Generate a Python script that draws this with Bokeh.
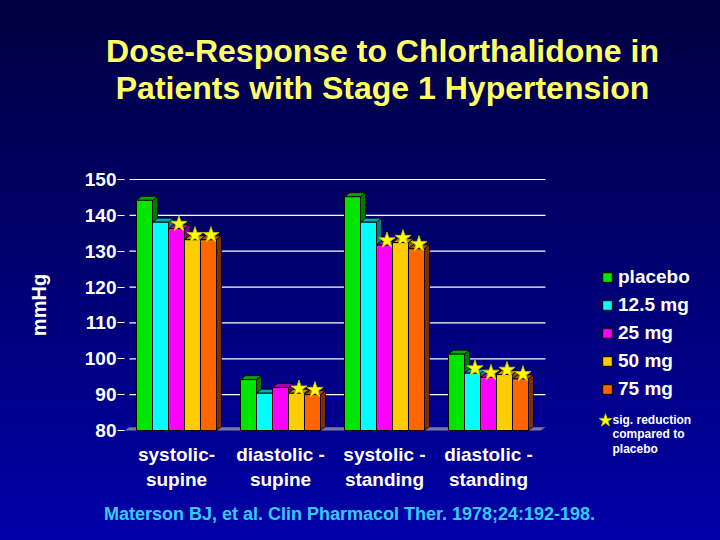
from bokeh.plotting import figure
from bokeh.models import (Label, Legend, LegendItem, FixedTicker, Range1d)
from bokeh.embed import file_html
from bokeh.resources import INLINE

# ---- data ----
categories = ["systolic-\nsupine", "diastolic -\nsupine", "systolic -\nstanding", "diastolic -\nstanding"]
series_names = ["placebo", "12.5 mg", "25 mg", "50 mg", "75 mg"]
placebo = [144.2, 94.2, 145.2, 101.3]
mg12_5 = [138.1, 90.4, 138.1, 96.0]
mg25 = [136.3, 92.0, 131.7, 94.8]
mg50 = [133.2, 90.4, 132.4, 95.6]
mg75 = [133.2, 90.0, 130.7, 94.4]
sig12_5 = [False, False, False, True]
sig25 = [True, False, True, True]
sig50 = [True, True, True, True]
sig75 = [True, True, True, True]
sigplacebo = [False, False, False, False]
y_ticks = [80, 90, 100, 110, 120, 130, 140, 150]
note_lines = ["sig. reduction", "compared to", "placebo"]

values = [placebo, mg12_5, mg25, mg50, mg75]
sigs = [sigplacebo, sig12_5, sig25, sig50, sig75]

front_colors = ["#00E600", "#00FFFF", "#FF00FF", "#FFCC00", "#FF6600"]
top_colors = ["#00A800", "#00B0B0", "#B000B0", "#B88C00", "#B84800"]
side_colors = ["#007A00", "#008080", "#800080", "#806000", "#803000"]

FONT = "Liberation Sans"
W, H = 720, 540

# frame covers the whole canvas; chart region: x -0.5..3.5 -> px 124..540, y 80..150 -> px 430..179
ppx = 104.0
ppy = 251.0 / 70.0
x_lo = -0.5 - 124 / ppx
x_hi = 3.5 + (W - 540) / ppx
y_lo = 80 - (H - 430) / ppy
y_hi = 150 + 179 / ppy

p = figure(width=W, height=H, x_range=Range1d(x_lo, x_hi), y_range=Range1d(y_lo, y_hi),
           output_backend="svg", toolbar_location=None,
           min_border_left=0, min_border_right=0, min_border_top=0, min_border_bottom=0)
p.background_fill_color = None
p.border_fill_color = None
p.outline_line_color = None
p.styles = {"background": "linear-gradient(to bottom, #000040 0%, #00006C 45%, #0000A8 100%)"}

p.xgrid.visible = False
p.ygrid.visible = False

# axes drawn at fixed data locations
p.yaxis.fixed_location = -0.5
p.yaxis.bounds = (80, 150)
p.yaxis.ticker = FixedTicker(ticks=y_ticks)
p.yaxis.axis_line_color = None
p.yaxis.major_tick_line_color = "white"
p.yaxis.major_tick_out = 7
p.yaxis.major_tick_in = 0
p.yaxis.minor_tick_line_color = None
p.yaxis.major_label_text_color = "white"
p.yaxis.major_label_text_font = FONT
p.yaxis.major_label_text_font_style = "bold"
p.yaxis.major_label_text_font_size = "19px"
p.yaxis.major_label_standoff = 1
p.yaxis.axis_label = "mmHg"
p.yaxis.axis_label_text_color = "white"
p.yaxis.axis_label_text_font = FONT
p.yaxis.axis_label_text_font_style = "bold"
p.yaxis.axis_label_text_font_size = "20px"
p.yaxis.axis_label_standoff = 32

p.xaxis.fixed_location = 80
p.xaxis.bounds = (-0.5, 3.5)
p.xaxis.ticker = FixedTicker(ticks=list(range(len(categories))))
p.xaxis.major_label_overrides = {i: c for i, c in enumerate(categories)}
p.xaxis.axis_line_color = None
p.xaxis.major_tick_line_color = None
p.xaxis.minor_tick_line_color = None
p.xaxis.major_label_text_color = "white"
p.xaxis.major_label_text_font = FONT
p.xaxis.major_label_text_font_style = "bold"
p.xaxis.major_label_text_font_size = "19px"
p.xaxis.major_label_standoff = 7

bw = 0.1538
dx = 0.048
dy = 1.1

# grid lines on back wall
gt = y_ticks[1:]
p.segment(x0=[-0.5 + dx] * len(gt), x1=[3.5 + dx] * len(gt), y0=gt, y1=gt, line_color="white", line_width=1.2)

# floor
p.patch(x=[-0.5, 3.5, 3.5 + dx, -0.5 + dx], y=[80, 80, 80 + dy * 0.8, 80 + dy * 0.8],
        fill_color="#7878A8", line_color=None)

front_renderers = []
star_renderer = None
for i, (vals, sig) in enumerate(zip(values, sigs)):
    off = (i - 2) * bw
    xs = [g + off for g in range(len(vals))]
    side_x, side_y, top_x, top_y = [], [], [], []
    for x, v in zip(xs, vals):
        x0, x1 = x - bw / 2, x + bw / 2
        side_x.append([x1, x1 + dx, x1 + dx, x1])
        side_y.append([80, 80 + dy, v + dy, v])
        top_x.append([x0, x1, x1 + dx, x0 + dx])
        top_y.append([v, v, v + dy, v + dy])
    p.patches(xs=side_x, ys=side_y, fill_color=side_colors[i], line_color="black", line_width=0.8)
    p.patches(xs=top_x, ys=top_y, fill_color=top_colors[i], line_color="black", line_width=0.8)
    r = p.vbar(x=xs, top=vals, bottom=80, width=bw, fill_color=front_colors[i],
               line_color="black", line_width=1)
    front_renderers.append(r)

for i, (vals, sig) in enumerate(zip(values, sigs)):
    off = (i - 2) * bw
    sx = [g + off + dx / 2 for g, s in zip(range(len(vals)), sig) if s]
    sy = [v + 1.3 for v, s in zip(vals, sig) if s]
    if sx:
        sr = p.scatter(x=sx, y=sy, marker="star", size=17, fill_color="#FFFF00",
                       line_color="#C8C800", line_width=0.8)
        star_renderer = sr

legend = Legend(items=[LegendItem(label=n, renderers=[r]) for n, r in zip(series_names, front_renderers)],
                location=(601, H - 400), padding=0, margin=0, spacing=6,
                glyph_width=12, glyph_height=12, label_standoff=5, label_height=20,
                label_text_color="white", label_text_font=FONT, label_text_font_style="bold",
                label_text_font_size="19px", border_line_color=None, background_fill_alpha=0)
p.add_layout(legend)

# star key (glyph only), text drawn as labels
legend2 = Legend(items=[LegendItem(label=" ", renderers=[star_renderer])],
                 location=(588, H - 437), padding=0, margin=0, spacing=0,
                 glyph_width=34, glyph_height=34, label_standoff=0, label_height=14,
                 label_text_color="white", label_text_font=FONT, label_text_font_style="bold",
                 label_text_font_size="12px", border_line_color=None, background_fill_alpha=0)
p.add_layout(legend2)

for k, t in enumerate(note_lines):
    p.add_layout(Label(x=612, y=H - 419 - 14.5 * k, x_units="screen", y_units="screen", text=t,
                       text_color="white", text_font=FONT, text_font_style="bold",
                       text_font_size="12px", text_baseline="middle", text_align="left"))

title_lines = ["Dose-Response to Chlorthalidone in", "Patients with Stage 1 Hypertension"]
for k, t in enumerate(title_lines):
    p.add_layout(Label(x=382, y=H - 50 - 37 * k, x_units="screen", y_units="screen", text=t,
                       text_color="#FFFF66", text_font=FONT, text_font_style="bold",
                       text_font_size="32px", text_baseline="middle", text_align="center"))

p.add_layout(Label(x=349, y=H - 513, x_units="screen", y_units="screen",
                   text="Materson BJ, et al. Clin Pharmacol Ther. 1978;24:192-198.",
                   text_color="#33CCFF", text_font=FONT, text_font_style="bold",
                   text_font_size="18px", text_baseline="middle", text_align="center"))

open("out.html", "w").write(file_html(p, INLINE))
